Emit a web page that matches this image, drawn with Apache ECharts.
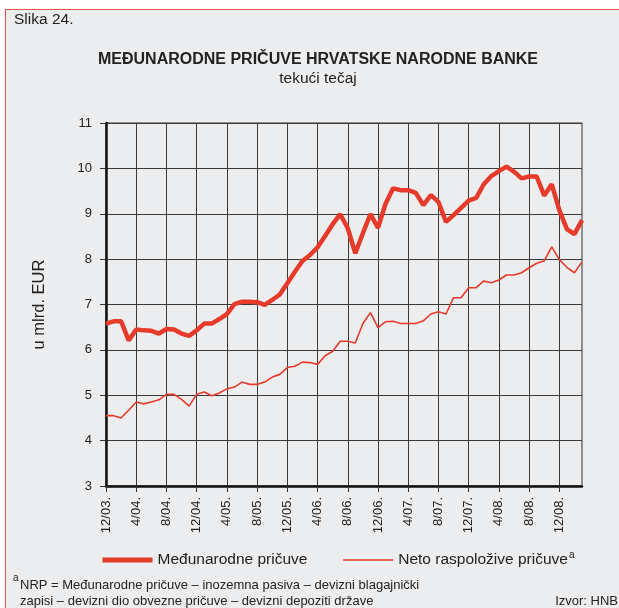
<!DOCTYPE html>
<html>
<head>
<meta charset="utf-8">
<script src="https://cdn.jsdelivr.net/npm/echarts@6/dist/echarts.min.js"></script>
<style>
html, body { margin: 0; padding: 0; background: #fff; }
body { position: relative; width: 619px; height: 608px; overflow: hidden; }
#frame { position: absolute; left: 5px; top: 9px; width: 700px; height: 700px; background: #ecedef;
         border-left: 1px solid #e8544a; border-top: 1px solid #e8544a; }
#main { position: absolute; left: 0; top: 0; width: 619px; height: 608px; }
</style>
</head>
<body>
<div id="frame"></div>
<div id="main"></div>
<script>
var months = [
    '12/03.', '1/04.', '2/04.', '3/04.', '4/04.', '5/04.', '6/04.', '7/04.', '8/04.', '9/04.', '10/04.', '11/04.',
    '12/04.', '1/05.', '2/05.', '3/05.', '4/05.', '5/05.', '6/05.', '7/05.', '8/05.', '9/05.', '10/05.', '11/05.',
    '12/05.', '1/06.', '2/06.', '3/06.', '4/06.', '5/06.', '6/06.', '7/06.', '8/06.', '9/06.', '10/06.', '11/06.',
    '12/06.', '1/07.', '2/07.', '3/07.', '4/07.', '5/07.', '6/07.', '7/07.', '8/07.', '9/07.', '10/07.', '11/07.',
    '12/07.', '1/08.', '2/08.', '3/08.', '4/08.', '5/08.', '6/08.', '7/08.', '8/08.', '9/08.', '10/08.', '11/08.',
    '12/08.', '1/09.', '2/09.', '3/09.'
];

// Međunarodne pričuve, mlrd. EUR
var reserves = [
    6.58, 6.63, 6.63, 6.21, 6.45, 6.43, 6.42, 6.36, 6.46, 6.45, 6.36, 6.31,
    6.43, 6.58, 6.58, 6.68, 6.79, 7.01, 7.06, 7.06, 7.05, 6.99, 7.10, 7.22,
    7.47, 7.72, 7.96, 8.09, 8.26, 8.51, 8.77, 8.99, 8.68, 8.13, 8.57, 8.99,
    8.69, 9.22, 9.56, 9.52, 9.52, 9.46, 9.19, 9.41, 9.26, 8.82, 8.97, 9.13,
    9.29, 9.35, 9.65, 9.83, 9.94, 10.04, 9.93, 9.78, 9.82, 9.82, 9.40, 9.65,
    9.08, 8.66, 8.55, 8.86
];

// Neto raspoložive pričuve, mlrd. EUR
var netReserves = [
    4.55, 4.55, 4.50, 4.67, 4.85, 4.81, 4.85, 4.90, 5.02, 5.02, 4.91, 4.76,
    5.02, 5.07, 4.99, 5.05, 5.14, 5.18, 5.29, 5.24, 5.24, 5.29, 5.40, 5.46,
    5.61, 5.64, 5.73, 5.72, 5.68, 5.87, 5.97, 6.19, 6.19, 6.15, 6.58, 6.82,
    6.49, 6.62, 6.63, 6.58, 6.58, 6.58, 6.64, 6.79, 6.84, 6.79, 7.15, 7.15,
    7.37, 7.37, 7.52, 7.48, 7.54, 7.65, 7.65, 7.70, 7.81, 7.91, 7.96, 8.27,
    7.99, 7.82, 7.70, 7.94
];

var FONT = "'Liberation Sans', Arial, sans-serif";
var RED = '#e63a2a';
var TXT = '#222';

var myChart = echarts.init(document.getElementById('main'));
var option = {
    backgroundColor: 'transparent',
    animation: false,
    textStyle: { fontFamily: FONT, color: TXT },
    grid: {
        left: 106, right: 37, top: 123, bottom: 122,
        show: true, borderColor: '#333', borderWidth: 1, backgroundColor: 'transparent'
    },
    legend: {
        left: 95, top: 545,
        itemWidth: 50, itemHeight: 14, itemGap: 35,
        itemStyle: { opacity: 0 },
        textStyle: {
            fontFamily: FONT, fontSize: 15.5, color: TXT,
            rich: { sup: { fontSize: 10, verticalAlign: 'top', padding: [0, 0, 10, 1], color: TXT } }
        },
        formatter: function (name) {
            return name == 'Neto raspoložive pričuve' ? name + '{sup|a}' : name;
        },
        data: [
            { name: 'Međunarodne pričuve', lineStyle: { width: 5, color: RED } },
            { name: 'Neto raspoložive pričuve', lineStyle: { width: 1.6, color: RED } }
        ]
    },
    xAxis: {
        type: 'category',
        boundaryGap: false,
        data: months,
        axisLine: { lineStyle: { color: '#111', width: 2.5 } },
        axisTick: { interval: 3, length: 6, lineStyle: { color: '#333' } },
        axisLabel: { interval: 3, rotate: 90, fontSize: 13, color: TXT, margin: 11 },
        splitLine: { show: true, interval: 3, lineStyle: { color: '#3a3a3a', width: 1 } }
    },
    yAxis: {
        type: 'value',
        min: 3, max: 11, interval: 1,
        name: 'u mlrd. EUR',
        nameLocation: 'middle',
        nameGap: 58,
        nameTextStyle: { fontSize: 16.5, color: TXT },
        axisLine: { show: true, lineStyle: { color: '#111', width: 2.5 } },
        axisTick: { show: true, length: 6, lineStyle: { color: '#333' } },
        axisLabel: { fontSize: 13, color: TXT, margin: 14 },
        splitLine: { lineStyle: { color: '#3a3a3a', width: 1 } }
    },
    series: [{
        name: 'Međunarodne pričuve',
        type: 'line',
        showSymbol: false,
        symbol: 'none',
        lineStyle: { width: 4.5, color: RED },
        itemStyle: { color: RED },
        data: reserves
    }, {
        name: 'Neto raspoložive pričuve',
        type: 'line',
        showSymbol: false,
        symbol: 'none',
        lineStyle: { width: 1.6, color: RED },
        itemStyle: { color: RED },
        data: netReserves
    }],
    graphic: [
        { type: 'text', x: 14, y: 20, style: { text: 'Slika 24.', font: '15.5px ' + FONT, fill: TXT, textVerticalAlign: 'middle' } },
        { type: 'text', x: 318, y: 60, style: { text: 'MEĐUNARODNE PRIČUVE HRVATSKE NARODNE BANKE', font: 'bold 16px ' + FONT, fill: TXT, textAlign: 'center', textVerticalAlign: 'middle' } },
        { type: 'text', x: 318, y: 79, style: { text: 'tekući tečaj', font: '15.5px ' + FONT, fill: TXT, textAlign: 'center', textVerticalAlign: 'middle' } },
        { type: 'text', x: 13, y: 578, style: { text: 'a', font: '10px ' + FONT, fill: TXT, textVerticalAlign: 'middle' } },
        { type: 'text', x: 20, y: 585, style: { text: 'NRP = Međunarodne pričuve – inozemna pasiva – devizni blagajnički', font: '13px ' + FONT, fill: TXT, textVerticalAlign: 'middle' } },
        { type: 'text', x: 20, y: 601, style: { text: 'zapisi – devizni dio obvezne pričuve – devizni depoziti države', font: '13px ' + FONT, fill: TXT, textVerticalAlign: 'middle' } },
        { type: 'text', x: 618, y: 601, style: { text: 'Izvor: HNB', font: '13px ' + FONT, fill: TXT, textAlign: 'right', textVerticalAlign: 'middle' } }
    ]
};
myChart.setOption(option);
</script>
</body>
</html>
